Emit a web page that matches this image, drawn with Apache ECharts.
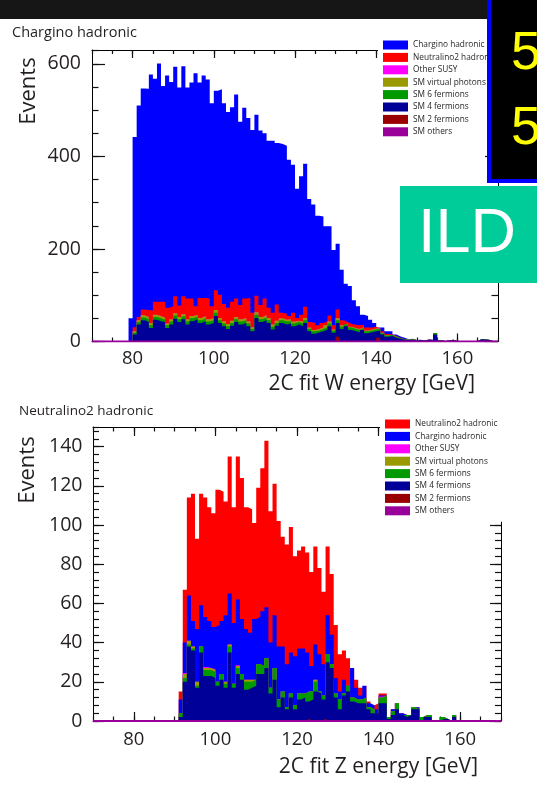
<!DOCTYPE html>
<html><head><meta charset="utf-8">
<script src="https://cdn.jsdelivr.net/npm/echarts@6/dist/echarts.min.js"></script>
<style>html,body{margin:0;padding:0;background:#fff}#c{width:537px;height:788px}</style>
</head><body><div id="c"></div>
<script>
// ---------------- data ----------------
const binLow = 70, binHigh = 170;          // 1 GeV bins
const xMajorTicks = [80, 100, 120, 140, 160];
const topYMajorTicks = [0, 200, 400, 600];
const botYMajorTicks = [0, 20, 40, 60, 80, 100, 120, 140];

// Top panel: "Chargino hadronic" selection, bins start at 79 GeV
const topFirstBin = 79;
const topChargino = [50,411,457,478,478,510,482,515,466,502, 485,496,471,497,456,467,504,466,481,473,
  439,431,444,434,423,420,441,396,412,389, 395,391,377,357,361,372,349,365,363,338,
  320,279,299,309,266,256,237,230,205,193, 163,142,109,83,82,53,41,22,25,17,
  8,2,8,6,7,3,3,3,1,1, 0,1,0,1,1,0,0,0,0,0, 0,0,0,0,0,0,0,0,0,0, 0];
const topNeutralino2 = [0,9,7,12,15,27,28,31,34,34, 28,37,25,39,45,38,18,43,39,45,
  25,43,50,37,35,41,40,31,42,50, 31,36,26,36,22,25,35,12,13,7,
  19,6,15,24,12,15,8,10,9,13, 9,19,11,3,6,7,8,5,6,4,
  4,0,3,2,1,1,1,0,0,0, 0,0,0,0,0,0,0,0,0,0, 0,0,0,0,0,0,0,0,0,0, 0];
const topOtherSusy = new Array(91).fill(0);
const topVirtualPhotons = [0,3,4,5,5,5,5,5,5,4, 5,5,5,5,5,5,4,5,5,5, 5,6,5,5,5,5,5,5,5,5,
  4,5,5,5,5,5,5,4,4,4, 4,3,4,5,3,3,3,3,4,4, 3,4,3,2,2,2,2,2,2,2,
  2,1,1,1,0,1,0,0,0,0, 0,0,0,0,0,0,0,0,0,0, 0,0,0,0,0,0,0,0,0,0, 0];
const topSixFermions = [0,4,5,6,6,6,6,6,5,6, 6,7,6,6,6,6,6,6,6,6, 6,7,6,6,6,6,6,6,6,6,
  5,7,6,6,6,6,6,6,6,5, 6,5,6,6,5,5,4,5,5,6, 4,6,5,4,5,5,5,4,4,4,
  4,4,3,3,2,2,1,1,1,1, 1,0,0,1,0,3,1,0,0,1, 0,0,0,0,0,0,0,1,0,0, 0];
const topFourFermions = [0,15,37,46,42,29,47,44,42,29, 37,49,42,48,37,44,48,40,44,37,
  40,55,40,33,27,34,42,37,40,33, 22,51,42,46,40,26,34,40,37,39,
  33,37,33,40,22,17,20,22,26,33, 19,30,27,33,25,22,20,25,18,20,
  22,15,15,10,12,8,6,4,3,4, 2,3,2,3,3,15,2,1,2,3, 1,0,1,0,0,1,5,4,3,0, 0];
const topTwoFermions = [0,0,0,0,0,0,0,0,0,0, 0,0,0,0,0,0,0,0,0,0, 0,0,0,0,0,0,0,0,0,0,
  0,0,0,0,0,0,0,0,0,0, 0,0,0,0,0,0,0,0,0,0, 0,10,0,0,0,0,0,0,0,0,
  0,8,0,0,0,0,0,0,0,0, 0,0,0,0,0,0,0,0,0,0, 0,0,0,0,0,0,0,0,0,0, 0];
const topOthers = new Array(91).fill(0);

// Bottom panel: "Neutralino2 hadronic" selection, bins start at 91 GeV
const botFirstBin = 91;
const botNeutralino2 = [4,27,50,65,46,57,61,58,58,69, 66,58,70,59,73,72,62,63,49,66,
  73,85,67,67,64,56,61,64,51,50, 52,51,48,50,44,37,35,31,27,19,
  15,14,0,4,4,0,1,0,3,1, 1,0,0,0,0,0,0,0,0,0, 0,0,0,0,0,0,0,0,0,0, 0,0,0,0,0,0,0,0,0];
const botChargino = [7,15.5,23,13,27,21,25.5,24,21.5,29, 27,34,26,31,33.5,28,26,24,31,24,
  28,26,23,27,27,23,22,21,25,23, 23,20,13,18,19,16,20,15,8,4,
  7,0,15,6,2,6,2,2,2,0.5, 0,0,1,0,1,0,0,0,1,0, 0,0,0,0,0,0,0,0,0,0, 0,0,0,0,0,0,0,0,0];
const botOtherSusy = [0,0.5,0,0,0,0,0.5,0,0.5,0, 0,0,0,0,0.5,0,0,0,0,0,
  0,0,0,0,0,0,0,0,0,0, 0,0,0,0,0,0,0,0,0,0, 0,0,0,0,0,0,0,0,0,0.5,
  0,0,0,0,0,0,0,0,0,0, 0,0,0,0,0,0,0,0,0,0, 0,0,0,0,0,0,0,0,0];
const botVirtualPhotons = [0,2,2,1,2,0,1,1,1,0, 0,1,1,0,1,0,1,1,0,0,
  0,0,0,0,0,0,0,0,0,0, 0,0,0,1,0,0,0,0,0,0, 0,0,0,0,0,0,0,0,0,0,
  0,0,0,0,0,0,0,0,0,0, 0,0,0,0,0,0,0,0,0,0, 0,0,0,0,0,0,0,0,0];
const botSixFermions = [2,2,1,1,1,3,3,3,3,2, 3,2,3,2,3,3,4,3,3,5, 4,5,3,6,4,3,1,2,2,3,
  2,5,4,5,1,2,4,2,2,5, 1,3,2,2,2,3,1,2,0,3, 4,1,2,3,0,1,0,1,0,2,
  1,1,0,0,1,0,0,1,0,0, 0,0,0,0,0,0,0,0,0];
const botFourFermions = [2,20,38,36,17,35,23,23,22,18, 21,17,35,17,24,21,16,17,18,24,
  24,27,14,21,7,12,6,12,6,11, 12,9,11,15,14,10,30,27,12,6,
  13,15,10,9,9,9,6,4,4,9, 9,1,3,6,3,2,3,6,6,0, 2,2,0,0,1,1,0,2,0,0, 0,0,0,0,0,0,0,0,0];
const botTwoFermions = [0,0,0,0,0,0,0,0,0,0, 0,0,0,0,0,0,0,0,0,0, 0,0,0,0,0,0,0,0,0,0,
  0,1,0,0,0,1,0,0,0,0, 0,0,0,0,0,0,0,0,0,0, 0,0,0,0,0,0,0,0,0,0,
  0,0,0,0,0,0,0,0,0,0, 0,0,0,0,0,0,0,0,0];
const botOthers = new Array(79).fill(0);

// ---------------- styling ----------------
const C = {
  chargino: '#0000ff', neutralino: '#ff0000', otherSusy: '#ff00ff', vphot: '#999900',
  six: '#009900', four: '#000099', two: '#990000', others: '#990099'
};
const FONT = 'Open Sans';
const TXT = '#231f20';

function fullBins(arr, first) {
  const out = new Array(binHigh - binLow).fill(0);
  arr.forEach((v, i) => { const b = first - binLow + i; if (b >= 0 && b < out.length) out[b] = v; });
  return out;
}

// layers listed from top of stack (drawn first, largest cumulative) to bottom
function stackSeries(layers, xi, yi) {
  const full = layers.map(l => fullBins(l.values, l.first));
  return layers.map((l, idx) => {
    const cum = full[0].map((_, b) => {
      let s = 0; for (let j = idx; j < full.length; j++) s += full[j][b]; return s;
    });
    const data = cum.map((v, b) => [binLow + b, v]);
    data.push([binHigh, 0]);
    const isLine = l.lineOnly;
    return {
      type: 'line', name: l.name, xAxisIndex: xi, yAxisIndex: yi, step: 'end',
      symbol: 'none', silent: true, animation: false, color: l.color,
      data: isLine ? data.map(d => [d[0], 0]) : data,
      lineStyle: isLine ? { width: 2, color: l.color } : { width: 0, opacity: 0 },
      areaStyle: isLine ? undefined : { color: l.color, opacity: 1 },
      z: isLine ? 3 : 2
    };
  });
}

const topLayers = [
  { name: 'Chargino hadronic', values: topChargino, first: topFirstBin, color: C.chargino },
  { name: 'Neutralino2 hadronic', values: topNeutralino2, first: topFirstBin, color: C.neutralino },
  { name: 'Other SUSY', values: topOtherSusy, first: topFirstBin, color: C.otherSusy },
  { name: 'SM virtual photons', values: topVirtualPhotons, first: topFirstBin, color: C.vphot },
  { name: 'SM 6 fermions', values: topSixFermions, first: topFirstBin, color: C.six },
  { name: 'SM 4 fermions', values: topFourFermions, first: topFirstBin, color: C.four },
  { name: 'SM 2 fermions', values: topTwoFermions, first: topFirstBin, color: C.two },
  { name: 'SM others', values: topOthers, first: topFirstBin, color: C.others, lineOnly: true }
];
const botLayers = [
  { name: 'Neutralino2 hadronic', values: botNeutralino2, first: botFirstBin, color: C.neutralino },
  { name: 'Chargino hadronic', values: botChargino, first: botFirstBin, color: C.chargino },
  { name: 'Other SUSY', values: botOtherSusy, first: botFirstBin, color: C.otherSusy },
  { name: 'SM virtual photons', values: botVirtualPhotons, first: botFirstBin, color: C.vphot },
  { name: 'SM 6 fermions', values: botSixFermions, first: botFirstBin, color: C.six },
  { name: 'SM 4 fermions', values: botFourFermions, first: botFirstBin, color: C.four },
  { name: 'SM 2 fermions', values: botTwoFermions, first: botFirstBin, color: C.two },
  { name: 'SM others', values: botOthers, first: botFirstBin, color: C.others, lineOnly: true }
];

function tick(len, custom) {
  const t = { show: true, inside: true, length: len, lineStyle: { color: '#111', width: 1.2 } };
  if (custom) t.customValues = custom;
  return t;
}
function xAxes(g, p) {
  const base = { type: 'value', gridIndex: g, min: binLow, max: binHigh, splitLine: { show: false }, minorTick: { show: false } };
  return [
    Object.assign({}, base, { position: 'bottom', interval: 5,
      axisLine: { show: true, onZero: false, lineStyle: { color: '#000', width: 1 } },
      axisTick: tick(p.xMinor), axisLabel: { show: false } }),
    Object.assign({}, base, { position: 'bottom',
      axisLine: { show: false, onZero: false },
      axisTick: tick(p.xMajor, xMajorTicks),
      axisLabel: { show: true, customValues: xMajorTicks, fontSize: p.xFont, color: TXT, fontFamily: FONT, margin: p.xMargin } }),
    Object.assign({}, base, { position: 'top', interval: 5,
      axisLine: { show: true, onZero: false, lineStyle: { color: '#000', width: 1 } },
      axisTick: tick(p.xMinor), axisLabel: { show: false } }),
    Object.assign({}, base, { position: 'top',
      axisLine: { show: false, onZero: false },
      axisTick: tick(p.xMajor, xMajorTicks),
      axisLabel: { show: false } })
  ];
}
function yAxes(g, p) {
  const base = { type: 'value', gridIndex: g, min: 0, max: p.yMax, splitLine: { show: false }, minorTick: { show: false } };
  return [
    Object.assign({}, base, { position: 'left', interval: p.yMinorStep,
      axisLine: { show: true, onZero: false, lineStyle: { color: '#000', width: 1 } },
      axisTick: tick(p.yMinor), axisLabel: { show: false } }),
    Object.assign({}, base, { position: 'left',
      axisLine: { show: false, onZero: false },
      axisTick: tick(p.yMajor, p.yTicks),
      axisLabel: { show: true, customValues: p.yTicks, fontSize: p.yFont, color: TXT, fontFamily: FONT, margin: p.yMargin } }),
    Object.assign({}, base, { position: 'right', interval: p.yMinorStep,
      axisLine: { show: true, onZero: false, lineStyle: { color: '#000', width: 1 } },
      axisTick: tick(p.yMinor), axisLabel: { show: false } }),
    Object.assign({}, base, { position: 'right',
      axisLine: { show: false, onZero: false },
      axisTick: tick(p.yMajor, p.yTicks),
      axisLabel: { show: false } })
  ];
}

const topP = { xMinor: 4, xMajor: 8, xFont: 18.5, xMargin: 8, yMax: 630, yMinorStep: 50, yMinor: 6.5, yMajor: 13,
  yTicks: topYMajorTicks, yFont: 19.5, yMargin: 11 };
const botP = { xMinor: 4.5, xMajor: 9, xFont: 18.5, xMargin: 9, yMax: 150, yMinorStep: 4, yMinor: 6, yMajor: 11,
  yTicks: botYMajorTicks, yFont: 19.5, yMargin: 10.5 };

function legendFor(names, left, top) {
  return {
    orient: 'vertical', left: left, top: top, padding: [6, 22, 6, 5], backgroundColor: '#fff',
    icon: 'rect', itemWidth: 25, itemHeight: 9, itemGap: 2.4, selectedMode: false,
    itemStyle: { borderWidth: 0 },
    textStyle: { fontSize: 8.3, lineHeight: 10, color: TXT, fontFamily: FONT },
    data: names, z: 4
  };
}

const chart = echarts.init(document.getElementById('c'), null, { renderer: 'canvas' });
chart.setOption({
  animation: false,
  backgroundColor: '#fff',
  grid: [
    { left: 92, top: 50, width: 406, height: 291.5 },
    { left: 93, top: 427, width: 408, height: 294 }
  ],
  xAxis: [...xAxes(0, topP), ...xAxes(1, botP)],
  yAxis: [...yAxes(0, topP), ...yAxes(1, botP)],
  legend: [
    legendFor(topLayers.map(l => l.name), 378, 34),
    legendFor(botLayers.map(l => l.name), 380, 413)
  ],
  series: [...stackSeries(topLayers, 0, 0), ...stackSeries(botLayers, 4, 4)],
  graphic: [
    { type: 'rect', z: 100, shape: { x: 0, y: 0, width: 537, height: 19 }, style: { fill: '#161616' } },
    { type: 'text', z: 100, x: 12, y: 33, style: { text: 'Chargino hadronic', fontSize: 14.5, fontFamily: FONT, fill: TXT, verticalAlign: 'middle' } },
    { type: 'text', z: 100, x: 19, y: 411, style: { text: 'Neutralino2 hadronic', fontSize: 13.5, fontFamily: FONT, fill: TXT, verticalAlign: 'middle' } },
    { type: 'text', z: 100, x: 29, y: 91, rotation: Math.PI / 2, style: { text: 'Events', fontSize: 22, fontFamily: FONT, fill: TXT, align: 'center', verticalAlign: 'middle' } },
    { type: 'text', z: 100, x: 28, y: 470, rotation: Math.PI / 2, style: { text: 'Events', fontSize: 22, fontFamily: FONT, fill: TXT, align: 'center', verticalAlign: 'middle' } },
    { type: 'text', z: 100, x: 475, y: 384, style: { text: '2C fit W energy [GeV]', fontSize: 21, fontFamily: FONT, fill: TXT, align: 'right', verticalAlign: 'middle' } },
    { type: 'text', z: 100, x: 478, y: 767, style: { text: '2C fit Z energy [GeV]', fontSize: 21, fontFamily: FONT, fill: TXT, align: 'right', verticalAlign: 'middle' } },
    { type: 'rect', z: 100, shape: { x: 489, y: -10, width: 60, height: 191 }, style: { fill: '#000', stroke: '#0000ff', lineWidth: 4 } },
    { type: 'text', z: 101, x: 511, y: 54, style: { text: '5', fontSize: 54, fontFamily: 'Liberation Sans', fill: '#ffff00', verticalAlign: 'middle' } },
    { type: 'text', z: 101, x: 511, y: 129, style: { text: '5', fontSize: 54, fontFamily: 'Liberation Sans', fill: '#ffff00', verticalAlign: 'middle' } },
    { type: 'rect', z: 100, shape: { x: 400, y: 186, width: 137, height: 97 }, style: { fill: '#00cc99' } },
    { type: 'text', z: 101, x: 418, y: 235, style: { text: 'ILD', fontSize: 63, fontFamily: 'Liberation Sans', fill: '#ffffff', verticalAlign: 'middle' } }
  ]
});
</script>
</body></html>
